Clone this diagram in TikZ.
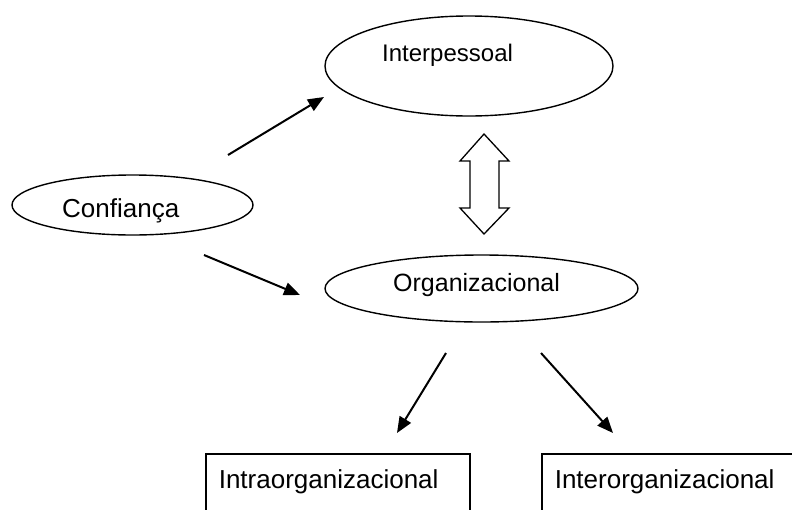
\documentclass[tikz,border=0pt]{standalone}
\usepackage{fontspec}
\setmainfont{Liberation Sans}
\usetikzlibrary{arrows.meta,shapes.geometric}
\begin{document}
\begin{tikzpicture}[x=1pt,y=-1pt,
  ell/.style={draw, ellipse, line width=1.4pt, inner sep=0pt},
  lbl/.style={anchor=base west, inner sep=0pt},
  boxnode/.style={draw, line width=1.6pt, anchor=north west, inner xsep=13pt, inner ysep=0pt,
     text height=35pt, text depth=40pt, text width=238pt, align=left, font=\fontsize{26}{30}\selectfont},
  arr/.style={-{Triangle[length=16pt,width=13pt]}, line width=2pt},
  dblarrow/.style={draw, line width=1.3pt, fill=white}
]
\useasboundingbox (0,0) rectangle (792,509);
\clip (0,0) rectangle (792,509);
\fill[white] (0,0) rectangle (792,509);

% ellipses
\node[ell, minimum width=288pt, minimum height=100pt] (inter) at (469,66) {};
\node[lbl, font=\fontsize{24}{28}\selectfont] (intertxt) at (382,61) {Interpessoal};

\node[ell, minimum width=241pt, minimum height=60pt] (conf) at (132.5,205) {};
\node[lbl, font=\fontsize{26}{30}\selectfont] (conftxt) at (62,217) {Confiança};

\node[ell, minimum width=313pt, minimum height=67pt] (org) at (481.5,288.5) {};
\node[lbl, font=\fontsize{25}{30}\selectfont] (orgtxt) at (393,291) {Organizacional};

% boxes
\node[boxnode] (intra) at (205,453) {Intraorganizacional};
\node[boxnode] (intero) at (541,453) {Interorganizacional};

% arrows
\coordinate (a1s) at (228,155); \coordinate (a1e) at (324,97);
\coordinate (a2s) at (204,255); \coordinate (a2e) at (300,295);
\coordinate (a3s) at (446,353); \coordinate (a3e) at (397,433);
\coordinate (a4s) at (541,353); \coordinate (a4e) at (613,433);
\draw[arr] (a1s) -- (a1e);
\draw[arr] (a2s) -- (a2e);
\draw[arr] (a3s) -- (a3e);
\draw[arr] (a4s) -- (a4e);

% hollow double arrow
\draw[dblarrow] (484,134) -- (509,161) -- (499,161) -- (499,208) -- (509,208) -- (484,234)
  -- (460,208) -- (470,208) -- (470,161) -- (460,161) -- cycle;
\end{tikzpicture}
\end{document}
